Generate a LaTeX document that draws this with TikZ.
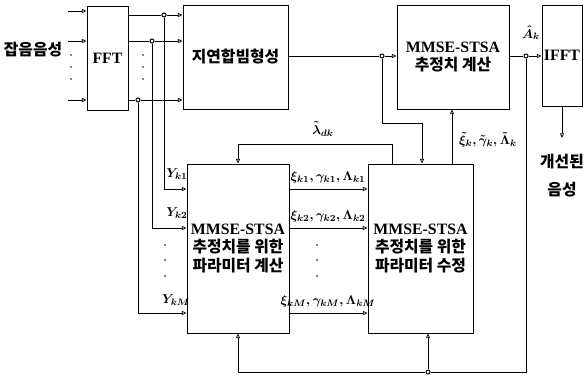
\documentclass[tikz,border=0pt]{standalone}
\usepackage{fontspec}
\usepackage{amsmath}
\usepackage{amssymb}
\setmainfont{Liberation Serif}
\newfontfamily\kr{Noto Sans CJK KR}
\usetikzlibrary{arrows.meta, positioning, calc}

\tikzset{
    blk/.style={draw, line width=0.8pt, inner sep=0pt, align=center},
    arr/.style={-{Triangle[open, length=4pt, width=3.5pt]}},
    dot/.style={circle, draw, fill=white, line width=0.8pt, inner sep=0pt, minimum size=3.5pt},
    pt/.style={circle, fill, inner sep=0pt, minimum size=1.6pt},
    lbl/.style={font=\fontsize{11}{13}\selectfont\boldmath, inner sep=1pt},
}

\begin{document}
\begin{tikzpicture}[x=0.3mm, y=-0.3mm, line width=0.6pt,
    font=\fontsize{13.5}{16}\selectfont]
    \useasboundingbox (0,0) rectangle (587,380);

    % blocks
    \node[blk, minimum width=12.3mm, minimum height=31.2mm] (fft) at (107.5,58) {\bfseries FFT};
    \node[blk, minimum width=31.5mm, minimum height=31.2mm] (delay) at (235.5,57) {\kr\bfseries 지연합빔형성};
    \node[blk, minimum width=33.6mm, minimum height=31.2mm] (est) at (453,57)
        {\bfseries MMSE-STSA\\{\kr\bfseries 추정치 계산}};
    \node[blk, minimum width=12mm, minimum height=30.3mm] (ifft) at (562,55.5) {\bfseries IFFT};
    \node[blk, minimum width=30.6mm, minimum height=50.7mm] (calc) at (238,248.5)
        {\bfseries MMSE-STSA\\{\kr\bfseries 추정치를 위한}\\{\kr\bfseries 파라미터 계산}};
    \node[blk, minimum width=31.5mm, minimum height=50.7mm] (upd) at (420.5,248.5)
        {\bfseries MMSE-STSA\\{\kr\bfseries 추정치를 위한}\\{\kr\bfseries 파라미터 수정}};

    % noisy speech in
    \node (noisy) at (33,50) {\kr\bfseries 잡음음성};
    \coordinate (in1) at (68,11);
    \coordinate (in2) at (68,41);
    \coordinate (inM) at (68,100);
    \foreach \c in {in1,in2,inM}
        \draw[arr] (\c) -- (\c -| fft.west);
    \foreach \y in {55,67,79}
        \node[pt] at (71,\y) {};

    % FFT outputs
    \node[dot] (j1) at (164,15) {};
    \node[dot] (j2) at (152,41) {};
    \node[dot] (jM) at (138,100) {};
    \foreach \j in {j1,j2,jM} {
        \draw (fft.east |- \j) -- (\j);
        \draw[arr] (\j) -- (\j -| delay.west);
    }
    \foreach \y in {55,67,79}
        \node[pt] at (143,\y) {};

    \draw[arr] (j1) |- (calc.west |- 0,189);
    \draw[arr] (j2) |- (calc.west |- 0,228);
    \draw[arr] (jM) |- (calc.west |- 0,313);
    \node[lbl] (y1) at (177,174) {$Y_{k1}$};
    \node[lbl] (y2) at (177,213) {$Y_{k2}$};
    \node[lbl] (yM) at (176,300) {$Y_{kM}$};
    \foreach \y in {245,260,276}
        \node[pt] at (165,\y) {};

    % parameters to update block
    \draw[arr] (calc.east |- 0,189) -- (upd.west |- 0,189);
    \draw[arr] (calc.east |- 0,228) -- (upd.west |- 0,228);
    \draw[arr] (calc.east |- 0,313) -- (upd.west |- 0,313);
    \node[lbl] (p1) at (328,177) {$\xi_{k1},\gamma_{k1},\Lambda_{k1}$};
    \node[lbl] (p2) at (328,216) {$\xi_{k2},\gamma_{k2},\Lambda_{k2}$};
    \node[lbl] (pM) at (328,301) {$\xi_{kM},\gamma_{kM},\Lambda_{kM}$};
    \foreach \y in {245,260,276}
        \node[pt] at (317,\y) {};

    % beamformer output
    \node[dot] (jd) at (382,56) {};
    \draw (delay.east |- jd) -- (jd);
    \draw[arr] (jd) -- (est.west |- jd);
    \coordinate (dn) at (422,123);
    \draw[arr] (jd) |- (dn) -- (dn |- upd.north);

    % estimate and IFFT
    \node[dot] (je) at (526,56) {};
    \draw (est.east |- je) -- (je);
    \draw[arr] (je) -- (ifft.west |- je);
    \node[lbl] (ak) at (531,33) {$\hat{A}_k$};
    \coordinate (ob) at (562,138);
    \draw[arr] (ifft.south) -- (ob);
    \node (out1) at (562,162) {\kr\bfseries 개선된};
    \node (out2) at (562,190) {\kr\bfseries 음성};

    % feedback
    \node[dot] (jb) at (428,372) {};
    \draw (je) |- (jb);
    \draw[arr] (jb) -- (jb |- upd.south);
    \draw[arr] (jb) -| (calc.south);

    \coordinate (lt) at (392,144);
    \draw[arr] (lt |- upd.north) -- (lt) -| (calc.north);
    \node[lbl] (lam) at (323,129) {$\tilde{\lambda}_{dk}$};

    \coordinate (pu) at (452,0);
    \draw[arr] (upd.north -| pu) -- (est.south -| pu);
    \node[lbl] (sm) at (488,140) {$\tilde{\xi}_k,\tilde{\gamma}_k,\tilde{\Lambda}_k$};
\end{tikzpicture}
\end{document}
